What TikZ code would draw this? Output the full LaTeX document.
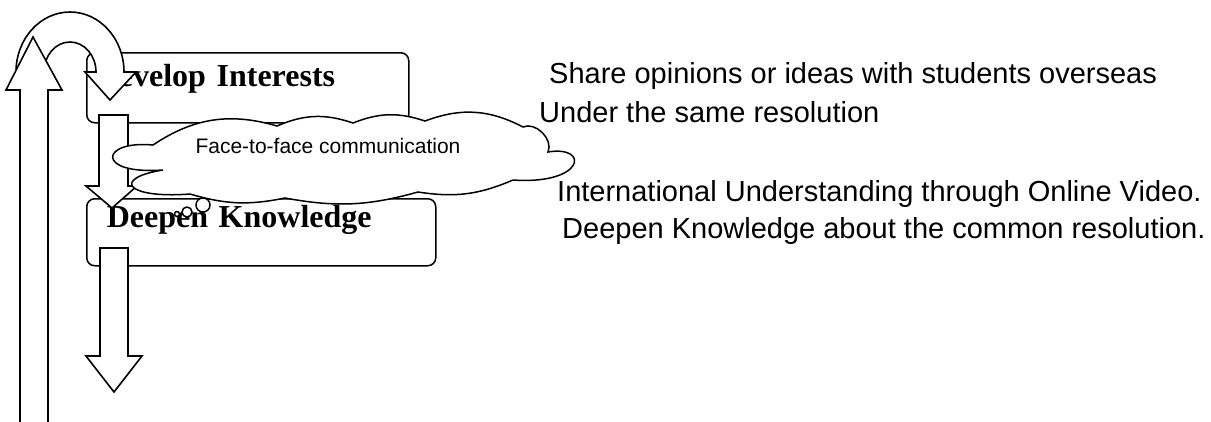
\documentclass[tikz,border=0pt]{standalone}
\usepackage{fontspec}
\setmainfont{Liberation Serif}
\setsansfont{Liberation Sans}
\usetikzlibrary{positioning}
\tikzset{x=1pt, y=-1pt}
\tikzstyle{stage} = [draw, line width=1.5pt, fill=white, rectangle, rounded corners=8pt, inner ysep=0pt, align=left, anchor=north west, font=\fontsize{32}{36}\selectfont\bfseries]
\tikzstyle{blockarrow} = [draw, line width=1.6pt, fill=white, line join=miter]
\tikzstyle{note} = [anchor=base west, inner sep=0pt, font=\sffamily\fontsize{29}{33}\selectfont]
\tikzstyle{puff} = [draw, line width=1.5pt, fill=white]

\begin{document}
\begin{tikzpicture}
    \useasboundingbox (0,0) rectangle (1211,421);
    \node [stage, inner xsep=9pt, text width=304pt, text height=34pt, text depth=36pt] (interests) at (86,52) {Develop Interests};
    \node [stage, inner xsep=20pt, text width=309pt, text height=29pt, text depth=38pt] (knowledge) at (86,198) {Deepen Knowledge};

    \node [note] (share) at (549,83) {Share opinions or ideas with students overseas};
    \node [note] (under) at (539,122) {Under the same resolution};
    \node [note] (online) at (557,201) {International Understanding through Online Video.};
    \node [note] (common) at (562,238) {Deepen Knowledge about the common resolution.};

    \draw [blockarrow] (99,115) -- (99,186) -- (86,186) -- (112,208) -- (137,186) -- (128,186) -- (128,115) -- cycle;
    \draw [blockarrow] (100,248) -- (100,356) -- (86,356) -- (114,392) -- (142,356) -- (128,356) -- (128,248) -- cycle;
    \draw [blockarrow] (16,88) -- (16,72) arc [start angle=180, end angle=0, x radius=54pt, y radius=60pt] -- (136,72) -- (110,100) -- (85,72) -- (96,72) arc [start angle=0, end angle=180, x radius=26pt, y radius=30pt] -- (44,88) -- cycle;
    \draw [blockarrow] (20,425) -- (20,90) -- (6,90) -- (33,37) -- (62,90) -- (48,90) -- (48,425) -- cycle;

    \draw [puff] (153,145) to[bend left=25] (277,126) to[bend left=21] (353,123) to[bend left=20] (425,121) to[bend left=24] (523,127) to[bend left=69] (548,152) .. controls (590,145) and (585,185) .. (513,180) to[bend left=16] (418,192) to[bend left=13] (285,198) to[bend left=14] (190,194) .. controls (125,199) and (112,178) .. (163,170) .. controls (95,175) and (100,140) .. (153,145) -- cycle;
    \draw [puff] (203,205) circle [radius=7pt];
    \draw [puff] (187,212) circle [radius=5pt];
    \draw [puff] (177,214) circle [radius=2.5pt];
    \node [anchor=base, inner sep=0pt, font=\sffamily\fontsize{21}{24}\selectfont] (facetoface) at (328,153) {Face-to-face communication};
\end{tikzpicture}
\end{document}
